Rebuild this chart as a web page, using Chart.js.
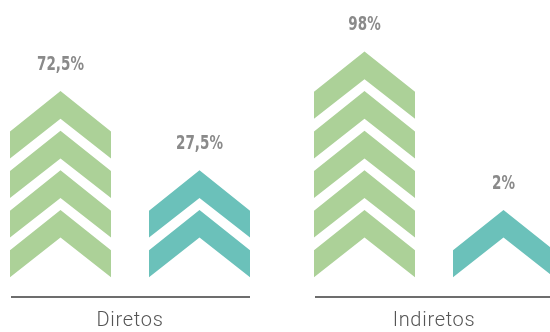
<!DOCTYPE html>
<html>
<head>
<meta charset="utf-8">
<script src="https://cdn.jsdelivr.net/npm/chart.js@4/dist/chart.umd.min.js"></script>
<style>
  html, body { margin: 0; padding: 0; background: #fff; overflow: hidden; width: 550px; height: 332px; }
  #caixa { position: absolute; left: -22px; top: 0; width: 608px; height: 332px; }
</style>
</head>
<body>
<div id="caixa"><canvas id="grafico"></canvas></div>
<script>
// Dados
const categorias = ["Diretos", "Indiretos"];
const rotulosVerde = ["72,5%", "98%"];
const rotulosAzul = ["27,5%", "2%"];
// número de setas empilhadas em cada barra
const setasVerde = [4, 5];
const setasAzul = [2, 1];

const COR_VERDE = "#acd198";
const COR_AZUL = "#6bc1ba";

// desenha cada barra como pilha de setas (chevrons)
const pluginSetas = {
    id: "setas",
    afterDatasetsDraw(chart) {
        const ctx = chart.ctx;
        const y = chart.scales.y;
        const x = chart.scales.x;
        const area = chart.chartArea;
        const rotulos = [rotulosVerde, rotulosAzul];

        chart.data.datasets.forEach((ds, i) => {
            const meta = chart.getDatasetMeta(i);
            meta.data.forEach((bar, j) => {
                const n = ds.data[j];
                const esq = bar.x - bar.width / 2;
                const dir = bar.x + bar.width / 2;
                ctx.save();
                ctx.fillStyle = ds.corSeta;
                for (let k = 0; k < n; k++) {
                    ctx.beginPath();
                    ctx.moveTo(esq, y.getPixelForValue(k));
                    ctx.lineTo(esq, y.getPixelForValue(k + 0.68));
                    ctx.lineTo(bar.x, y.getPixelForValue(k + 1.7));
                    ctx.lineTo(dir, y.getPixelForValue(k + 0.68));
                    ctx.lineTo(dir, y.getPixelForValue(k));
                    ctx.lineTo(bar.x, y.getPixelForValue(k + 1));
                    ctx.closePath();
                    ctx.fill();
                }
                // rótulo de percentagem (fonte condensada à mão)
                const topo = y.getPixelForValue(n + 0.7);
                ctx.translate(bar.x, topo - 26);
                ctx.scale(0.79, 1);
                ctx.fillStyle = "#8a8a8a";
                ctx.font = "bold 19px 'DejaVu Sans Condensed', sans-serif";
                ctx.textAlign = "center";
                ctx.textBaseline = "middle";
                ctx.fillText(rotulos[i][j], 0, 0);
                ctx.restore();
            });
        });

        // linha de base por grupo + nome da categoria
        const m0 = chart.getDatasetMeta(0), m1 = chart.getDatasetMeta(1);
        ctx.save();
        ctx.strokeStyle = "#3c3c3c";
        ctx.lineWidth = 1.4;
        ctx.fillStyle = "#555";
        ctx.font = "300 20px Roboto";
        ctx.letterSpacing = "0.7px";
        ctx.textAlign = "center";
        ctx.textBaseline = "middle";
        categorias.forEach((c, j) => {
            const a = m0.data[j], b = m1.data[j];
            ctx.beginPath();
            ctx.moveTo(a.x - a.width / 2 + 1, area.bottom);
            ctx.lineTo(b.x + b.width / 2, area.bottom);
            ctx.stroke();
            ctx.fillText(c, x.getPixelForValue(j), area.bottom + 24);
        });
        ctx.restore();
    }
};

new Chart(document.getElementById("grafico"), {
    type: "bar",
    data: {
        labels: categorias,
        datasets: [
            { label: "Verde", data: setasVerde, backgroundColor: "rgba(0,0,0,0)", corSeta: COR_VERDE },
            { label: "Azul", data: setasAzul, backgroundColor: "rgba(0,0,0,0)", corSeta: COR_AZUL }
        ]
    },
    options: {
        responsive: true,
        maintainAspectRatio: false,
        animation: false,
        layout: { padding: { top: 0, left: 0, right: 0, bottom: 35 } },
        categoryPercentage: 0.9145,
        barPercentage: 0.7266,
        plugins: { legend: { display: false }, tooltip: { enabled: false } },
        scales: {
            y: { display: false, min: -0.5, max: 7 },
            x: { display: false }
        }
    },
    plugins: [pluginSetas]
});
</script>
</body>
</html>
